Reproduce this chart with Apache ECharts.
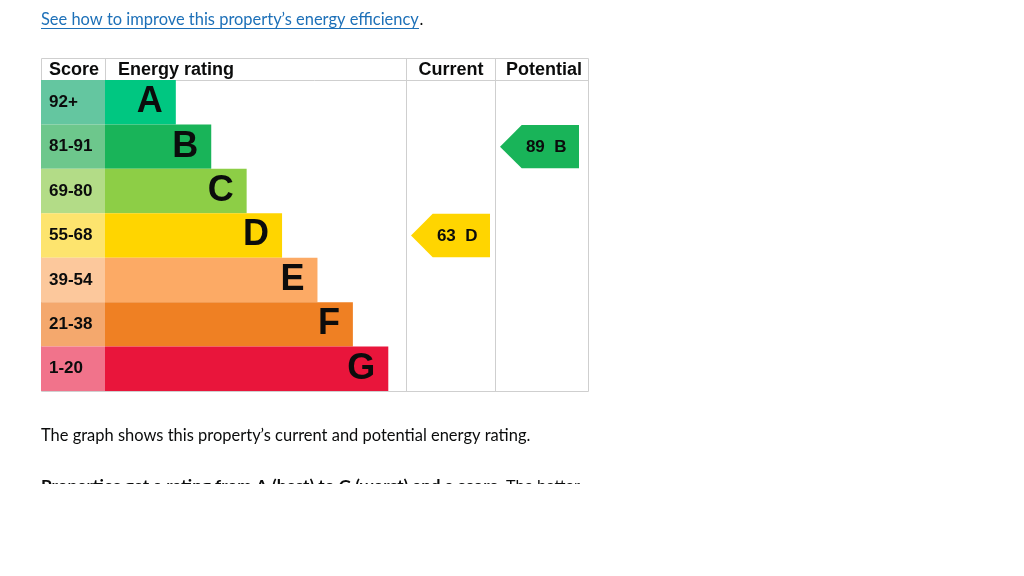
<!DOCTYPE html>
<html>
<head>
<meta charset="utf-8">
<script src="https://cdn.jsdelivr.net/npm/echarts@6/dist/echarts.min.js"></script>
<style>html,body{margin:0;padding:0;background:#fff}#c{width:1024px;height:576px}</style>
</head>
<body>
<div id="c"></div>
<script>
// ---- data ----
const bands = ['A', 'B', 'C', 'D', 'E', 'F', 'G'];
const scoreRanges = ['92+', '81-91', '69-80', '55-68', '39-54', '21-38', '1-20'];
const bandBarLength = [2, 3, 4, 5, 6, 7, 8];
const currentRating = { score: 63, band: 'D' };
const potentialRating = { score: 89, band: 'B' };
const headers = ['Score', 'Energy rating', 'Current', 'Potential'];
const linkText = 'See how to improve this property\u2019s energy efficiency';
const introText = 'The graph shows this property\u2019s current and potential energy rating.';
const boldText = 'Properties get a rating from A (best) to G (worst) and a score.';
const trailText = 'The better';

// ---- styles ----
const bandColors = ['#00c781', '#19b459', '#8dce46', '#ffd500', '#fcaa65', '#ef8023', '#e9153b'];
const scoreColors = ['#64c6a0', '#6dc78c', '#b3dc87', '#fde46e', '#fcc89c', '#f4a86d', '#f1738b'];
const TF = '"Liberation Sans", Arial, sans-serif';
const BF = 'Lato, "Noto Sans", sans-serif';
const ink = '#0b0c0c';
const lineC = '#cfcfcf';

// fit a text run to a given width (layout helper)
const mctx = document.createElement('canvas').getContext('2d');
function fitSize(text, weight, target) {
  mctx.font = weight + ' 20px ' + BF;
  return 20 * target / mctx.measureText(text).width;
}
const linkSize = fitSize(linkText, 'normal', 378);
const introSize = fitSize(introText, 'normal', 490);
const boldSize = fitSize(boldText, 'bold', 462);
const trailSize = fitSize(trailText, 'normal', 74);

const chart = echarts.init(document.getElementById('c'));

function arrowRenderer(params, api) {
  const idx = api.value(1);
  const p0 = api.coord([0, idx]);
  const p1 = api.coord([1, idx]);
  const h = api.size([0, 1])[1];
  const x0 = p0[0], x1 = p1[0], yc = p0[1];
  const top = yc - h / 2 + 0.5, bot = yc + h / 2 - 0.5;
  const tip = (bot - top) / 2;
  const color = bandColors[idx];
  return {
    type: 'group',
    children: [{
      type: 'polygon',
      shape: { points: [[x0, yc], [x0 + tip, top], [x1, top], [x1, bot], [x0 + tip, bot]] },
      style: { fill: color }
    }, {
      type: 'text',
      style: {
        text: api.value(2) + '  ' + bands[idx],
        x: x0 + (x1 - x0) * 0.585, y: yc + 1,
        align: 'center', verticalAlign: 'middle',
        font: 'bold 17px ' + TF, fill: ink
      }
    }]
  };
}

const yCat = i => ({ type: 'category', gridIndex: i, data: bands, inverse: true, show: false });
const xVal = (i, max) => ({ type: 'value', gridIndex: i, min: 0, max: max, show: false });

chart.setOption({
  animation: false,
  grid: [
    { left: 41, top: 80, width: 64, height: 311 },
    { left: 105, top: 80, width: 301, height: 311 },
    { left: 411, top: 80, width: 79, height: 311 },
    { left: 500, top: 80, width: 79, height: 311 }
  ],
  xAxis: [xVal(0, 1), xVal(1, 8.5), xVal(2, 1), xVal(3, 1)],
  yAxis: [yCat(0), yCat(1), yCat(2), yCat(3)],
  series: [{
    type: 'bar', xAxisIndex: 0, yAxisIndex: 0, barCategoryGap: '0%',
    data: scoreRanges.map((s, i) => ({ value: 1, itemStyle: { color: scoreColors[i] } })),
    label: {
      show: true, position: 'insideLeft', distance: 8,
      formatter: p => scoreRanges[p.dataIndex],
      fontFamily: TF, fontWeight: 'bold', fontSize: 17, color: ink
    },
    z: 3
  }, {
    type: 'bar', xAxisIndex: 1, yAxisIndex: 1, barCategoryGap: '0%',
    data: bandBarLength.map((v, i) => ({ value: v, itemStyle: { color: bandColors[i] } })),
    label: {
      show: true, position: 'insideRight', distance: 13,
      formatter: p => bands[p.dataIndex],
      fontFamily: TF, fontWeight: 'bold', fontSize: 36, color: ink
    },
    z: 3
  }, {
    type: 'custom', xAxisIndex: 2, yAxisIndex: 2,
    renderItem: arrowRenderer,
    data: [[1, bands.indexOf(currentRating.band), currentRating.score]],
    z: 3
  }, {
    type: 'custom', xAxisIndex: 3, yAxisIndex: 3,
    renderItem: arrowRenderer,
    data: [[1, bands.indexOf(potentialRating.band), potentialRating.score]],
    z: 3
  }],
  graphic: [
    // table frame
    { type: 'rect', shape: { x: 41.5, y: 58.5, width: 547, height: 333 }, style: { fill: 'none', stroke: lineC, lineWidth: 1 }, z: 1 },
    { type: 'line', shape: { x1: 41, y1: 80.5, x2: 588, y2: 80.5 }, style: { stroke: lineC, lineWidth: 1 }, z: 1 },
    { type: 'line', shape: { x1: 105.5, y1: 58, x2: 105.5, y2: 80 }, style: { stroke: lineC, lineWidth: 1 }, z: 1 },
    { type: 'line', shape: { x1: 406.5, y1: 58, x2: 406.5, y2: 391 }, style: { stroke: lineC, lineWidth: 1 }, z: 1 },
    { type: 'line', shape: { x1: 495.5, y1: 58, x2: 495.5, y2: 391 }, style: { stroke: lineC, lineWidth: 1 }, z: 1 },
    // headers
    { type: 'text', style: { text: headers[0], x: 49, y: 70, verticalAlign: 'middle', font: 'bold 18px ' + TF, fill: ink } },
    { type: 'text', style: { text: headers[1], x: 118, y: 70, verticalAlign: 'middle', font: 'bold 18px ' + TF, fill: ink } },
    { type: 'text', style: { text: headers[2], x: 451, y: 70, align: 'center', verticalAlign: 'middle', font: 'bold 18px ' + TF, fill: ink } },
    { type: 'text', style: { text: headers[3], x: 544, y: 70, align: 'center', verticalAlign: 'middle', font: 'bold 18px ' + TF, fill: ink } },
    // link
    { type: 'text', style: { text: linkText, x: 41, y: 20, verticalAlign: 'middle', font: linkSize + 'px ' + BF, fill: '#1d70b8' } },
    { type: 'line', shape: { x1: 41, y1: 28.5, x2: 419, y2: 28.5 }, style: { stroke: '#1d70b8', lineWidth: 1 } },
    { type: 'text', style: { text: '.', x: 419.5, y: 20, verticalAlign: 'middle', font: linkSize + 'px ' + BF, fill: ink } },
    // paragraph
    { type: 'text', style: { text: introText, x: 41, y: 436, verticalAlign: 'middle', font: introSize + 'px ' + BF, fill: ink } },
    { type: 'text', z: 5, style: { text: boldText, x: 41, y: 486, verticalAlign: 'middle', font: 'bold ' + boldSize + 'px ' + BF, fill: ink } },
    { type: 'text', z: 5, style: { text: trailText, x: 506, y: 486, verticalAlign: 'middle', font: trailSize + 'px ' + BF, fill: ink } },
    { type: 'rect', z: 10, shape: { x: 0, y: 484, width: 1024, height: 92 }, style: { fill: '#fff' } }
  ]
});
</script>
</body>
</html>
